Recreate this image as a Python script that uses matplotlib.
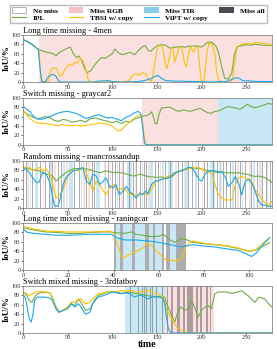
import matplotlib
matplotlib.use("Agg")
import matplotlib.pyplot as plt
from matplotlib.patches import Patch
from matplotlib.lines import Line2D

plt.rcParams['font.family'] = ['Liberation Serif', 'DejaVu Serif']

C_IPL = '#70AD47'
C_TBSI = '#FFC000'
C_VIPT = '#1AA7EC'
C_RGB = '#F4A7A7'
C_TIR = '#87CEEB'
C_ALL = '#4A4A52'

# ---------------- panel 1: Long time missing - 4men ----------------
p1_ipl_f = [0, 5, 10, 15, 19, 25, 30, 34, 37, 40, 45, 50, 53, 57, 60, 63, 66, 69, 72, 76, 80, 84, 88, 92, 96,
            100, 103, 107, 111, 115, 120, 125, 130, 134, 137, 140, 143, 147, 151, 155, 160, 164, 168, 172, 177,
            182, 186, 191, 195, 200, 203, 207, 212, 216, 219, 223, 226, 230, 234, 237, 240, 245, 250, 255, 260,
            265, 270, 275, 279]
p1_ipl_v = [90, 86, 80, 72, 68, 64, 62, 60, 55, 62, 67, 72, 74, 58, 52, 55, 45, 28, 20, 24, 35, 45, 52, 50, 55,
            60, 70, 62, 58, 60, 63, 58, 68, 75, 77, 68, 65, 72, 78, 79, 78, 72, 74, 74, 75,
            74, 76, 76, 77, 74, 78, 85, 84, 77, 63, 30, 8, 6, 20, 60, 75, 77, 79, 78, 80,
            79, 78, 78, 78]
p1_tbsi_f = [0, 5, 10, 15, 18, 20, 22, 28, 31, 34, 38, 41, 44, 48, 52, 55, 58, 61, 64, 67, 70, 73, 76, 90, 100,
             110, 118, 122, 126, 130, 134, 138, 141, 144, 147, 150, 153, 156, 159, 161, 164, 166, 168, 170, 172,
             175, 178, 181, 183, 186, 188, 191, 193, 196, 198, 200, 203, 206, 208, 212, 215, 217, 220, 225, 232,
             235, 237, 240, 245, 250, 255, 260, 265, 270, 275, 279]
p1_tbsi_v = [90, 86, 80, 72, 68, 10, 0, 2, 25, 30, 28, 12, 15, 30, 38, 35, 42, 40, 52, 45, 30, 5, 0, 0, 1,
             0, 2, 12, 18, 14, 20, 16, 5, 2, 30, 70, 78, 75, 45, 28, 50, 74, 70, 42, 55,
             74, 72, 40, 32, 65, 75, 63, 72, 75, 30, 2, 5, 60, 82, 80, 60, 20, 2, 0, 0,
             5, 40, 75, 80, 82, 80, 84, 83, 82, 80, 80]
p1_vipt_f = [0, 5, 10, 14, 17, 19, 21, 25, 28, 31, 34, 37, 40, 43, 80, 85, 95, 100, 110, 130, 138, 143, 148,
             151, 155, 160, 170, 190, 210, 228, 233, 238, 242, 246, 255, 265, 279]
p1_vipt_v = [90, 86, 80, 74, 70, 30, 0, 1, 10, 15, 16, 12, 2, 0, 0, 2, 3, 1, 0, 1, 4, 7, 12,
             14, 8, 3, 2, 1, 0, 1, 5, 9, 8, 3, 2, 1, 1]
p1_rgb = [(18, 279)]
p1_tir = []
p1_all = []

# ---------------- panel 2: Switch missing - graycar2 ----------------
p2_ipl_f = [0, 4, 8, 12, 16, 20, 25, 30, 35, 40, 45, 50, 55, 60, 65, 70, 75, 80, 85, 90, 95, 100, 105, 110,
            115, 120, 125, 130, 134, 138, 141, 144, 146, 148, 150, 152, 155, 159, 163, 167, 171, 175, 179, 183,
            187, 191, 195, 199, 203, 207, 211, 215, 219, 223, 227, 231, 235, 239, 243, 247, 251, 255, 259, 263,
            267, 271, 275, 279]
p2_ipl_v = [72, 66, 62, 58, 55, 57, 60, 58, 52, 50, 54, 52, 48, 50, 52, 48, 55, 57, 55, 52, 50, 47, 50, 45,
            50, 48, 55, 58, 61, 62, 64, 70, 60, 46, 44, 62, 78, 79, 80, 78, 73, 71, 74, 73,
            71, 73, 76, 77, 72, 68, 67, 71, 72, 75, 80, 81, 79, 78, 75, 80, 86, 82, 79, 80,
            83, 85, 88, 86]
p2_tbsi_f = [0, 4, 8, 12, 16, 20, 25, 30, 35, 40, 45, 50, 55, 60, 65, 70, 75, 80, 85, 90, 95, 100, 104, 107,
             110, 114, 118, 122, 126, 130, 133, 135, 137, 139, 279]
p2_tbsi_v = [74, 64, 55, 50, 46, 46, 45, 44, 42, 41, 43, 41, 40, 42, 40, 41, 43, 44, 46, 46, 44, 40, 33, 29,
             31, 40, 45, 53, 58, 63, 64, 30, 3, 0, 0]
p2_vipt_f = [0, 4, 8, 12, 16, 20, 25, 30, 35, 40, 45, 50, 55, 60, 65, 70, 75, 80, 85, 90, 95, 100, 105, 110,
             115, 120, 125, 129, 132, 134, 136, 138, 279]
p2_vipt_v = [82, 76, 70, 60, 55, 54, 56, 60, 64, 68, 70, 71, 69, 66, 62, 56, 58, 62, 64, 60, 57, 58, 55, 51,
             58, 62, 68, 71, 66, 40, 5, 0, 0]
p2_rgb = [(133, 219)]
p2_tir = [(219, 279)]
p2_all = []

# ---------------- panel 3: Random missing - mancrossandup ----------------
p3_ipl_f = [0, 4, 7, 12, 18, 22, 26, 30, 33, 37, 41, 45, 48, 52, 56, 60, 63, 67, 71, 75, 78, 82, 86, 90, 93,
            97, 101, 105, 108, 112, 116, 120, 123, 127, 131, 134, 138, 142, 146, 150, 155, 159, 163, 167, 170,
            174, 178, 182, 186, 189, 193, 197, 201, 204, 208, 212, 216, 219, 223, 227, 231, 234, 238, 242, 246,
            250, 254, 257, 261, 264, 268, 272, 276, 279]
p3_ipl_v = [86, 85, 83, 81, 79, 76, 72, 70, 68, 57, 64, 70, 75, 80, 83, 84, 83, 84, 83, 81, 79, 77, 75, 77, 79,
            77, 75, 76, 75, 74, 72, 70, 68, 69, 72, 70, 68, 66, 66, 65, 66, 64, 64, 66, 72,
            78, 80, 82, 84, 85, 84, 84, 82, 81, 79, 78, 76, 75, 76, 75, 74, 75, 74, 75, 73,
            72, 70, 68, 67, 68, 66, 64, 58, 55]
p3_tbsi_f = [0, 3, 7, 11, 15, 18, 22, 26, 30, 33, 37, 41, 45, 48, 52, 56, 60, 63, 67, 71, 75, 78, 82, 86, 90,
             93, 97, 101, 104, 108, 112, 116, 119, 123, 127, 131, 134, 138, 140, 144, 148, 152, 155, 159, 163,
             167, 170, 174, 178, 182, 185, 189, 193, 197, 200, 204, 208, 212, 215, 219, 223, 227, 230, 234, 238,
             242, 245, 249, 253, 257, 260, 264, 268, 272, 275, 279]
p3_tbsi_v = [90, 83, 86, 79, 83, 86, 79, 83, 72, 54, 21, 28, 39, 57, 75, 79, 80, 79, 86, 75, 54, 36, 57, 50, 36,
             28, 43, 50, 43, 39, 43, 36, 28, 32, 25, 28, 32, 30, 28, 39, 54, 58, 61, 64, 68,
             72, 75, 77, 79, 81, 83, 86, 85, 86, 83, 79, 76, 72, 50, 28, 21, 17, 17, 17, 50,
             64, 67, 63, 61, 54, 39, 28, 17, 10, 6, 14]
p3_vipt_f = [0, 3, 7, 11, 15, 18, 22, 26, 30, 33, 35, 37, 39, 41, 45, 48, 52, 56, 60, 63, 67, 71, 75, 78, 82,
             86, 90, 93, 97, 101, 104, 108, 112, 116, 119, 123, 127, 131, 134, 138, 140, 144, 148, 152, 155,
             159, 163, 167, 170, 174, 178, 182, 185, 189, 193, 197, 200, 204, 208, 212, 215, 219, 223, 227, 230,
             234, 238, 242, 245, 249, 253, 257, 260, 264, 268, 272, 275, 279]
p3_vipt_v = [79, 84, 75, 64, 54, 55, 75, 72, 55, 28, 6, 3, 5, 14, 50, 64, 72, 79, 80, 83, 86, 57, 50, 72, 68,
             50, 57, 64, 46, 43, 50, 28, 36, 46, 36, 28, 21, 32, 28, 36, 30, 50, 57, 58, 61,
             62, 64, 70, 75, 77, 79, 83, 86, 86, 75, 61, 57, 72, 79, 79, 79, 77, 77, 64, 46,
             54, 67, 50, 28, 57, 61, 50, 36, 14, 6, 6, 3, 4]
p3_all_frames = [3, 10, 19, 25, 29, 33, 39, 43, 51, 57, 60, 63, 71, 77, 80, 88, 95, 100, 103, 108, 112, 119,
                 123, 127, 131, 136, 138, 148, 151, 159, 165, 174, 178, 185, 189, 196, 203, 206, 213, 217,
                 224, 228, 232, 238, 243, 249, 256, 262, 268, 272, 277]
p3_tir = [(8, 9.5), (13, 17), (30, 32), (45, 47), (52, 56), (65, 66.5), (82, 86), (92, 93.5), (105, 107),
          (116, 122), (133, 135), (142, 146), (156, 157.5), (163, 168), (181, 185), (193, 194.5), (210, 215),
          (220, 221.5), (234, 236), (245, 247), (258, 260), (264, 265.5), (273, 275)]
p3_rgb_frames = [5, 22, 35, 48, 67, 73, 91, 97, 110, 125, 140, 153, 170, 180, 200, 221, 240, 253, 266]

# ---------------- panel 4: Long time mixed missing - raningcar ----------------
p4_ipl_f = [0, 5, 10, 15, 20, 25, 30, 35, 39, 40, 45, 48, 50, 53, 55, 58, 60, 62, 65, 67, 70, 72, 75, 80, 85,
            90, 95, 100, 103, 106, 109]
p4_ipl_v = [90, 85, 81, 80, 78, 78, 80, 81, 81, 80, 78, 81, 76, 74, 72, 71, 72, 76, 64, 59, 67, 65, 59, 56, 54,
            51, 46, 40, 43, 51, 58]
p4_tbsi_f = [0, 5, 10, 15, 20, 25, 30, 35, 38, 40, 42, 44, 47, 50, 53, 55, 57, 60, 63, 66, 69, 70.5, 72, 75,
             80, 85, 90, 95, 100, 103, 106, 109]
p4_tbsi_v = [94, 87, 83, 82, 81, 81, 81, 82, 83, 78, 51, 25, 33, 40, 47, 58, 51, 36, 22, 20, 20, 29, 51, 62,
             57, 54, 52, 47, 40, 44, 58, 69]
p4_vipt_f = [0, 2, 5, 10, 15, 20, 25, 30, 35, 39, 41, 45, 50, 55, 60, 65, 70, 72, 75, 80, 85, 90, 95, 98,
             101, 103, 106, 109]
p4_vipt_v = [87, 80, 78, 76, 74, 74, 75, 76, 76, 76, 69, 64, 64, 62, 59, 54, 49, 51, 54, 51, 49, 45, 42, 36,
             29, 36, 54, 69]
p4_all = [(40, 41), (43, 44), (48, 49.5), (54, 55.5), (57.5, 58.5), (61.5, 62.5), (63, 65), (67.5, 72)]
p4_tir = [(41, 43), (44, 48), (49.5, 54), (55.5, 57.5), (58.5, 61.5), (65, 67.5)]
p4_rgb = []

# ---------------- panel 5: Switch mixed missing - 3rdfatboy ----------------
p5_ipl_f = [0, 3, 7, 10, 13, 16, 20, 25, 30, 33, 37, 41, 45, 50, 54, 58, 62, 65, 70, 75, 80, 84, 90, 95, 100,
            105, 110, 115, 120, 125, 130, 135, 140, 145, 150, 155, 159, 161, 164, 167, 170, 174, 177, 181,
            185, 189, 193, 196, 200, 204, 208, 211, 215, 219, 226, 230, 234, 238, 241, 245, 249, 253, 256,
            260, 264, 268, 271, 275, 279]
p5_ipl_v = [87, 83, 69, 65, 76, 83, 85, 86, 85, 76, 55, 44, 48, 55, 62, 58, 72, 65, 48, 51, 69, 79, 83, 87, 87,
            87, 84, 86, 87, 84, 83, 81, 79, 78, 77, 77, 76, 62, 48, 35, 23, 48, 55, 48,
            51, 69, 51, 33, 48, 55, 58, 51, 83, 87, 87, 86, 84, 86, 87, 90, 83, 78, 72,
            65, 76, 74, 72, 62, 55]
p5_tbsi_f = [0, 3, 7, 10, 15, 20, 25, 30, 33, 37, 41, 45, 50, 54, 58, 62, 65, 70, 75, 80, 84, 90, 95, 100,
             105, 110, 115, 120, 125, 130, 135, 140, 145, 150, 155, 158, 160, 162, 165, 168, 170, 174, 178,
             182, 186, 279]
p5_tbsi_v = [87, 84, 79, 83, 87, 88, 87, 86, 72, 55, 44, 48, 55, 65, 65, 72, 72, 62, 65, 76, 83, 85, 87, 87,
             88, 90, 89, 90, 88, 87, 88, 90, 86, 84, 78, 72, 55, 45, 35, 27, 19, 9, 5,
             1, 0, 0]
p5_vipt_f = [0, 3, 7, 9, 11, 13, 16, 20, 25, 30, 33, 37, 40, 45, 50, 54, 58, 62, 65, 70, 75, 78, 84, 90, 95,
             100, 105, 110, 115, 120, 125, 130, 135, 140, 145, 150, 155, 157, 159, 161, 163, 165, 168, 279]
p5_vipt_v = [83, 72, 30, 23, 37, 69, 76, 76, 76, 74, 69, 51, 44, 48, 51, 62, 55, 62, 55, 40, 44, 62, 76, 79, 83,
             87, 85, 83, 85, 83, 76, 80, 78, 72, 76, 77, 75, 72, 60, 30, 8, 2, 0, 0]
p5_tir = [(114, 159)]
p5_rgb = [(159, 214)]
p5_all_frames = [116, 120, 125, 129, 133, 136, 138, 142, 145, 149, 153, 156]
p5_all = [(161, 162.5), (166, 168.5), (173, 176), (179, 181), (184, 190), (194, 196), (198, 201), (205, 207),
          (209, 211)]

panels = [
    ('Long time missing - 4men', 279, [0, 50, 100, 150, 200, 250],
     (p1_ipl_f, p1_ipl_v), (p1_tbsi_f, p1_tbsi_v), (p1_vipt_f, p1_vipt_v), p1_rgb, p1_tir, p1_all),
    ('Switch missing - graycar2', 279, [0, 50, 100, 150, 200, 250],
     (p2_ipl_f, p2_ipl_v), (p2_tbsi_f, p2_tbsi_v), (p2_vipt_f, p2_vipt_v), p2_rgb, p2_tir, p2_all),
    ('Random missing - mancrossandup', 279, [0, 50, 100, 150, 200, 250],
     (p3_ipl_f, p3_ipl_v), (p3_tbsi_f, p3_tbsi_v), (p3_vipt_f, p3_vipt_v),
     [(f, f + 2) for f in p3_rgb_frames], p3_tir, [(f, f + 1) for f in p3_all_frames]),
    ('Long time mixed missing - raningcar', 110, [0, 20, 40, 60, 80, 100],
     (p4_ipl_f, p4_ipl_v), (p4_tbsi_f, p4_tbsi_v), (p4_vipt_f, p4_vipt_v), p4_rgb, p4_tir, p4_all),
    ('Switch mixed missing - 3rdfatboy', 279, [0, 50, 100, 150, 200, 250],
     (p5_ipl_f, p5_ipl_v), (p5_tbsi_f, p5_tbsi_v), (p5_vipt_f, p5_vipt_v),
     p5_rgb, p5_tir, [(f, f + 1) for f in p5_all_frames] + p5_all),
]

fig = plt.figure(figsize=(2.77, 3.49), dpi=100)
bottoms = [0.765, 0.585, 0.404, 0.226, 0.046]

for i, (title, xmax, xticks, ipl, tbsi, vipt, rgb, tir, allm) in enumerate(panels):
    ax = fig.add_axes([0.083, bottoms[i], 0.899, 0.135])
    # missing-modality shading
    for a, b in rgb:
        ax.axvspan(a, b, color=C_RGB, alpha=0.35, lw=0)
    for a, b in tir:
        ax.axvspan(a, b, color=C_TIR, alpha=0.45, lw=0)
    for a, b in allm:
        ax.axvspan(a, b, color=C_ALL, alpha=0.45, lw=0)

    ax.plot(ipl[0], ipl[1], color=C_IPL, lw=0.8)
    ax.plot(tbsi[0], tbsi[1], color=C_TBSI, lw=0.8)
    ax.plot(vipt[0], vipt[1], color=C_VIPT, lw=0.8)

    ax.set_xlim(0, xmax)
    ax.set_ylim(0, 100)
    ax.set_xticks(xticks)
    ax.set_yticks([0, 20, 40, 60, 80, 100])
    ax.tick_params(labelsize=4.6, length=1.2, width=0.5, pad=0.6, colors='#333333')
    for s in ax.spines.values():
        s.set_linewidth(0.6)
        s.set_color('#888888')
    ax.set_title(title, loc='left', fontsize=6, pad=0.8)
    ax.set_ylabel('IoU/%', fontsize=6.5, fontweight='bold', labelpad=0.5)
    if i == 4:
        ax.set_xlabel('time', fontsize=7, fontweight='bold', labelpad=0)

handles = [
    Patch(facecolor='white', edgecolor='#999999', lw=0.5), Line2D([], [], color=C_IPL, lw=0.8),
    Patch(facecolor=C_RGB, alpha=0.7, lw=0), Line2D([], [], color=C_TBSI, lw=0.8),
    Patch(facecolor=C_TIR, lw=0), Line2D([], [], color=C_VIPT, lw=0.8),
    Patch(facecolor=C_ALL, lw=0),
]
labels = ['No miss', 'IPL', 'Miss RGB', 'TBSI w/ copy', 'Miss TIR', 'ViPT w/ copy', 'Miss all']
fig.legend(handles, labels, ncol=4, loc='upper center', bbox_to_anchor=(0.5, 0.997),
           prop={'size': 5.4, 'weight': 'bold'}, handlelength=1.9, handleheight=0.8,
           columnspacing=1.5, handletextpad=0.9, labelspacing=0.15, borderpad=0.3,
           fancybox=False, edgecolor='#bbbbbb', framealpha=1)

fig.savefig('out.png', dpi=100)
